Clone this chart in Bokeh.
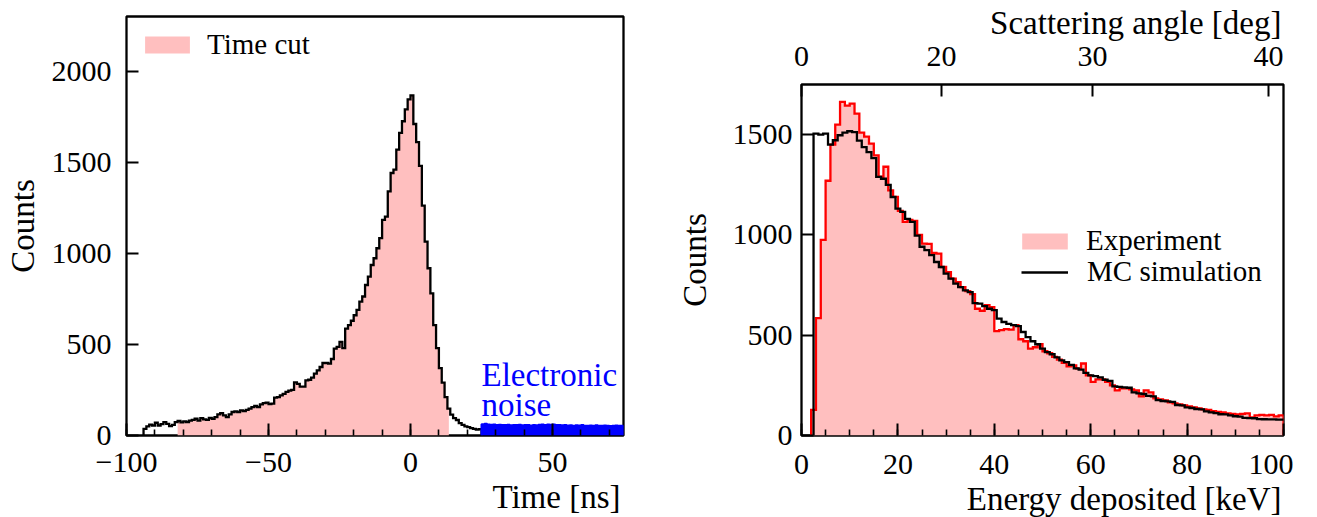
import numpy as np
from bokeh.plotting import figure
from bokeh.models import FixedTicker, LinearAxis, Legend, LegendItem, Label, Range1d, Title
from bokeh.embed import file_html
from bokeh.resources import INLINE

FONT = "Liberation Serif"

# ---------------- left panel: time spectrum (1 ns bins) ----------------
time_first_edge = -94
time_counts = [
    36, 50, 60, 55, 70, 55, 62, 73, 64, 52, 58, 73, 80, 72, 78, 74, 82, 86, 92, 82,
    95, 88, 86, 97, 92, 101, 116, 123, 110, 101, 116, 129, 132, 129, 138, 134, 141, 147, 156, 162,
    156, 171, 178, 180, 172, 175, 208, 211, 220, 229, 240, 246, 250, 292, 283, 268, 268, 303, 306, 318,
    340, 358, 376, 398, 398, 395, 420, 477, 486, 514, 480, 587, 606, 630, 660, 690, 735, 763, 826, 872,
    936, 973, 1028, 1083, 1184, 1202, 1340, 1441, 1459, 1569, 1661, 1725, 1790, 1845, 1867, 1710, 1610, 1480, 1262, 1064,
    918, 780, 606, 480, 370, 290, 211, 147, 115, 95, 85, 68, 58, 50, 46, 40, 36, 32, 35,
]
time_cut = [-82, 13.5]
noise_first_edge = 25
noise_counts = [
    62, 64, 61, 59, 60, 58, 59, 57, 58, 59, 56, 58, 57, 59, 56, 57, 58, 55, 57, 56,
    59, 60, 58, 61, 59, 60, 57, 58, 56, 57, 55, 56, 54, 56, 55, 57, 54, 53, 55, 54,
    56, 54, 53, 55, 54, 52, 54, 55, 53, 54,
]
time_xticks = [-100, -50, 0, 50]
time_yticks = [0, 500, 1000, 1500, 2000]

# ---------------- right panel: energy spectrum (1 keV bins) ----------------
exp_first_edge = 2
exp_counts = [
    128, 585, 975, 1270, 1450, 1550, 1663, 1645, 1655, 1605, 1510, 1490, 1455, 1397, 1290, 1340, 1222, 1190, 1120, 1065,
    1075, 1070, 1000, 957, 955, 910, 907, 840, 815, 782, 765, 740, 720, 705, 632, 622, 650, 640, 520, 525,
    530, 528, 550, 480, 470, 433, 440, 455, 420, 410, 392, 378, 362, 345, 350, 333, 359, 300, 267, 280,
    280, 267, 250, 225, 235, 235, 230, 225, 195, 225, 215, 185, 180, 175, 165, 160, 155, 150, 145, 140,
    135, 130, 128, 122, 118, 115, 110, 108, 105, 108, 110, 90, 100, 103, 100, 103, 95, 100,
]
mc_first_edge = 2.5
mc_counts = [
    1505, 1500, 1505, 1450, 1472, 1497, 1510, 1517, 1513, 1470, 1438, 1413, 1383, 1289, 1280, 1250, 1189, 1131, 1115, 1080,
    1065, 997, 941, 924, 899, 865, 840, 807, 782, 757, 740, 724, 715, 660, 657, 645, 632, 625, 583, 566,
    557, 550, 545, 516, 490, 470, 455, 433, 416, 405, 390, 375, 366, 352, 335, 328, 312, 300, 296, 290,
    278, 272, 245, 242, 240, 238, 215, 210, 207, 198, 195, 176, 172, 170, 168, 152, 150, 140, 137, 132,
    130, 120, 115, 112, 106, 105, 100, 96, 94, 88, 87, 86, 82, 81, 80, 80, 79, 79,
]
energy_xticks = [0, 20, 40, 60, 80, 100]
energy_yticks = [0, 500, 1000, 1500]
angle_ticks = [0, 20, 30, 40]      # scattering angle [deg]
photon_energy = 511.0               # keV, annihilation photon


def step_outline(first_edge, counts, width=1.0):
    edges = first_edge + width * np.arange(len(counts) + 1)
    xs = [edges[0]]
    ys = [0.0]
    for i, c in enumerate(counts):
        xs += [edges[i], edges[i + 1]]
        ys += [c, c]
    xs.append(edges[-1])
    ys.append(0.0)
    return np.array(xs, float), np.array(ys, float)


def clip_step(xs, ys, lo, hi):
    out_x, out_y = [], []
    for i in range(0, len(xs) - 2, 2):
        x0, x1, v = xs[i + 1], xs[i + 2], ys[i + 1]
        a, b = max(x0, lo), min(x1, hi)
        if b > a:
            out_x += [a, b]
            out_y += [v, v]
    return np.array(out_x), np.array(out_y)


def style(p):
    p.xgrid.visible = False
    p.ygrid.visible = False
    p.outline_line_color = "black"
    p.outline_line_width = 2.3
    p.background_fill_color = "white"
    p.border_fill_color = "white"
    for ax in p.axis:
        ax.axis_line_color = None
        ax.major_tick_in = 12
        ax.major_tick_out = 0
        ax.minor_tick_in = 6
        ax.minor_tick_out = 0
        ax.major_tick_line_width = 2
        ax.minor_tick_line_width = 1.6
        ax.major_tick_line_color = "black"
        ax.minor_tick_line_color = "black"
        ax.major_label_text_font = FONT
        ax.major_label_text_font_size = "30px"
        ax.major_label_text_color = "black"
        ax.axis_label_text_font = FONT
        ax.axis_label_text_font_size = "33px"
        ax.axis_label_text_font_style = "normal"
        ax.axis_label_text_color = "black"


def side_title(text, standoff, offset):
    return Title(text=text, align="right", text_font=FONT, text_font_size="33px",
                 text_font_style="normal", text_color="black", standoff=standoff, offset=offset)


def make_legend(items, loc, gw, gh, standoff):
    return Legend(items=items, location=loc, glyph_width=gw, glyph_height=gh, label_standoff=standoff,
                  label_text_font=FONT, label_text_font_size="29px", label_text_color="black",
                  padding=0, margin=0, spacing=0, border_line_color=None, background_fill_alpha=0)


PINK = "#ffbfbf"

# ---------------- left figure ----------------
p1 = figure(frame_width=497, frame_height=419, x_range=Range1d(-100, 75), y_range=Range1d(0, 2300),
            output_backend="svg", toolbar_location=None,
            min_border_left=126, min_border_right=20, min_border_top=16, min_border_bottom=0)
style(p1)
p1.xaxis.ticker = FixedTicker(ticks=time_xticks, minor_ticks=list(range(-100, 76, 10)))
p1.xaxis.major_label_overrides = {t: (str(t).replace("-", "\u2212")) for t in time_xticks}
p1.yaxis.ticker = FixedTicker(ticks=time_yticks, minor_ticks=[])
p1.xaxis.major_label_standoff = 17
p1.yaxis.major_label_standoff = 15
p1.yaxis.axis_label = "Counts"
p1.yaxis.axis_label_standoff = 8
p1.add_layout(side_title("Time [ns]", 4, 3), "below")

tx, ty = step_outline(time_first_edge, time_counts)
cx, cy = clip_step(tx, ty, time_cut[0], time_cut[1])
fill1 = p1.varea(x=cx, y1=0, y2=cy, fill_color=PINK, fill_alpha=1.0)
p1.line(tx, ty, line_color="black", line_width=2.3, line_join="miter")
nx, ny = step_outline(noise_first_edge, noise_counts)
p1.varea(x=nx, y1=0, y2=ny, fill_color="blue")
p1.line(nx, ny, line_color="blue", line_width=2)

p1.add_layout(Label(x=25, y=330, text="Electronic", text_color="blue", text_font=FONT,
                    text_font_size="33px", text_baseline="alphabetic"))
p1.add_layout(Label(x=25, y=165, text="noise", text_color="blue", text_font=FONT,
                    text_font_size="33px", text_baseline="alphabetic"))

p1.add_layout(make_legend([LegendItem(label="Time cut", renderers=[fill1])], (13, 374), 56, 21, 12))

# ---------------- right figure ----------------
p2 = figure(frame_width=482, frame_height=351, x_range=Range1d(0, 100), y_range=Range1d(0, 1750),
            output_backend="svg", toolbar_location=None,
            min_border_left=158, min_border_right=10, min_border_top=83, min_border_bottom=0)
angle_rad = np.radians(angle_ticks)
a = (photon_energy / 511.0) * (1 - np.cos(angle_rad))
angle_energy = [round(float(v), 3) for v in photon_energy * a / (1 + a)]
top = LinearAxis(ticker=FixedTicker(ticks=angle_energy, minor_ticks=[]),
                 major_label_overrides={e: str(t) for e, t in zip(angle_energy, angle_ticks)})
p2.add_layout(top, "above")
style(p2)
bottom = p2.below[0]
bottom.ticker = FixedTicker(ticks=energy_xticks, minor_ticks=list(range(0, 101, 5)))
bottom.major_label_standoff = 19
top.major_label_standoff = 19
p2.yaxis.ticker = FixedTicker(ticks=energy_yticks, minor_ticks=[])
p2.yaxis.major_label_standoff = 9
p2.yaxis.axis_label = "Counts"
p2.yaxis.axis_label_standoff = 17
p2.add_layout(side_title("Energy deposited [keV]", 4, 2), "below")
p2.add_layout(side_title("Scattering angle [deg]", 5, 2), "above")

ex, ey = step_outline(exp_first_edge, exp_counts)
fill2 = p2.varea(x=ex, y1=0, y2=ey, fill_color=PINK)
p2.line(ex, ey, line_color="red", line_width=2.3, line_join="miter")
mx, my = step_outline(mc_first_edge, mc_counts)
mc_line = p2.line(mx, my, line_color="black", line_width=2.3, line_join="miter")

p2.add_layout(make_legend([LegendItem(label="Experiment", renderers=[fill2])], (215, 178), 57, 20, 13))
p2.add_layout(make_legend([LegendItem(label="MC simulation", renderers=[mc_line])], (220, 147), 47, 20, 19))

TEMPLATE = """
{% block contents %}
<div style="display:flex; flex-direction:row; align-items:flex-start;">
{{ super() }}
</div>
{% endblock %}
"""

open("out.html", "w").write(file_html([p1, p2], INLINE, template=TEMPLATE))
